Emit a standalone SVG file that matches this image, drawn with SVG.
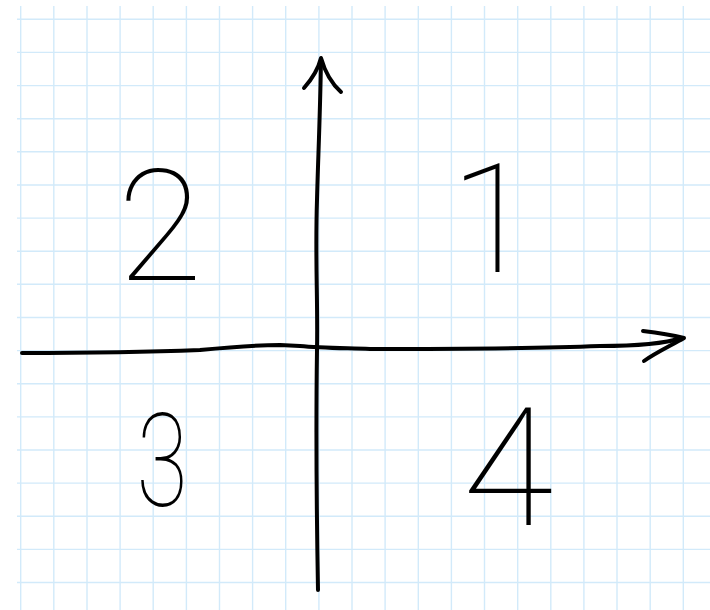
<svg xmlns="http://www.w3.org/2000/svg" width="710" height="610" viewBox="0 0 710 610">
  <defs>
    <style>
      .grid line { stroke: #d2eafa; stroke-width: 1.4; }
      .ink { fill: none; stroke: #000; stroke-width: 4; stroke-linecap: round; stroke-linejoin: round; }
      .num { font-family: Roboto, "Liberation Sans", sans-serif; font-weight: 100; fill: #000; text-anchor: middle; }
    </style>
  </defs>
  <rect width="710" height="610" fill="#fff"/>
  <g id="grid" class="grid">
    <line x1="20.7" y1="6" x2="20.7" y2="610"/>
    <line x1="53.8" y1="6" x2="53.8" y2="610"/>
    <line x1="87" y1="6" x2="87" y2="610"/>
    <line x1="120.1" y1="6" x2="120.1" y2="610"/>
    <line x1="153.2" y1="6" x2="153.2" y2="610"/>
    <line x1="186.4" y1="6" x2="186.4" y2="610"/>
    <line x1="219.5" y1="6" x2="219.5" y2="610"/>
    <line x1="252.6" y1="6" x2="252.6" y2="610"/>
    <line x1="285.7" y1="6" x2="285.7" y2="610"/>
    <line x1="318.9" y1="6" x2="318.9" y2="610"/>
    <line x1="352" y1="6" x2="352" y2="610"/>
    <line x1="385.1" y1="6" x2="385.1" y2="610"/>
    <line x1="418.3" y1="6" x2="418.3" y2="610"/>
    <line x1="451.4" y1="6" x2="451.4" y2="610"/>
    <line x1="484.5" y1="6" x2="484.5" y2="610"/>
    <line x1="517.7" y1="6" x2="517.7" y2="610"/>
    <line x1="550.8" y1="6" x2="550.8" y2="610"/>
    <line x1="583.9" y1="6" x2="583.9" y2="610"/>
    <line x1="617" y1="6" x2="617" y2="610"/>
    <line x1="650.2" y1="6" x2="650.2" y2="610"/>
    <line x1="683.3" y1="6" x2="683.3" y2="610"/>
    <line x1="17" y1="19.3" x2="710" y2="19.3"/>
    <line x1="17" y1="52.4" x2="710" y2="52.4"/>
    <line x1="17" y1="85.6" x2="710" y2="85.6"/>
    <line x1="17" y1="118.7" x2="710" y2="118.7"/>
    <line x1="17" y1="151.8" x2="710" y2="151.8"/>
    <line x1="17" y1="185" x2="710" y2="185"/>
    <line x1="17" y1="218.1" x2="710" y2="218.1"/>
    <line x1="17" y1="251.2" x2="710" y2="251.2"/>
    <line x1="17" y1="284.3" x2="710" y2="284.3"/>
    <line x1="17" y1="317.5" x2="710" y2="317.5"/>
    <line x1="17" y1="350.6" x2="710" y2="350.6"/>
    <line x1="17" y1="383.7" x2="710" y2="383.7"/>
    <line x1="17" y1="416.9" x2="710" y2="416.9"/>
    <line x1="17" y1="450" x2="710" y2="450"/>
    <line x1="17" y1="483.1" x2="710" y2="483.1"/>
    <line x1="17" y1="516.3" x2="710" y2="516.3"/>
    <line x1="17" y1="549.4" x2="710" y2="549.4"/>
    <line x1="17" y1="582.5" x2="710" y2="582.5"/>
  </g>
  <g id="connectors">
    <g id="y-axis">
      <path class="ink" d="M321,60 C320,120 318,160 317,200 C315,260 318,300 317,350 C316,420 316,480 318,590"/>
      <path class="ink" d="M304,88 C312,79 318,70 321,58 C325,72 332,84 341,92"/>
    </g>
    <g id="x-axis">
      <path class="ink" d="M22,353 C80,353 150,352 200,350 C230,347 255,345 280,345 L300,346 C320,348 340,348 370,349 C450,349 550,348 600,346 C630,346 660,345 682,338"/>
      <path class="ink" d="M643,331 C660,333 672,335 684,338 C672,345 655,353 644,361"/>
    </g>
  </g>
  <g id="q1"><text class="num" x="492" y="272" font-size="153">1</text></g>
  <g id="q2"><text class="num" x="160" y="280" font-size="155">2</text></g>
  <g id="q3"><text class="num" transform="translate(162,0) scale(0.72,1)" x="0" y="506" font-size="130">3</text></g>
  <g id="q4"><text class="num" x="508" y="525" font-size="166">4</text></g>
</svg>
